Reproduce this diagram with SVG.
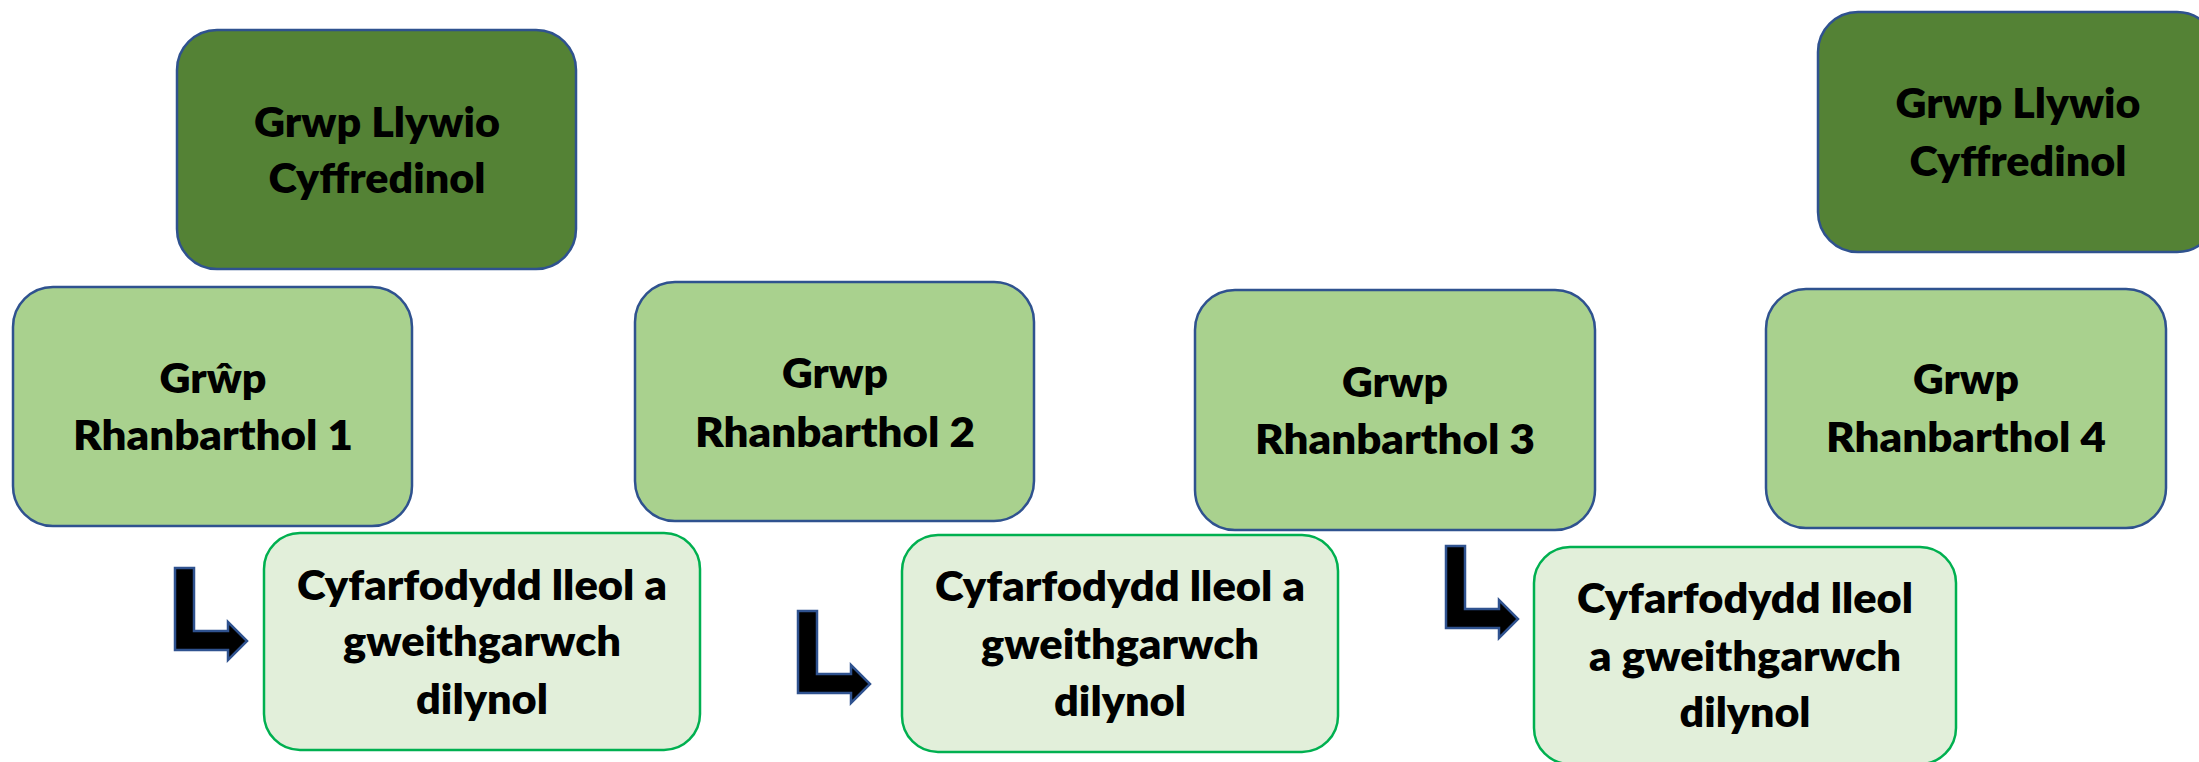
<svg xmlns="http://www.w3.org/2000/svg" width="2199" height="762" viewBox="0 0 2199 762">
<style>
.dark{fill:#548235;stroke:#2F528F;stroke-width:2.5}
.mid{fill:#A9D18E;stroke:#2F528F;stroke-width:2.5}
.pale{fill:#E2EFDA;stroke:#00B050;stroke-width:2.5}
.arrow{fill:#000;stroke:#2F528F;stroke-width:2.5;stroke-linejoin:miter}
text{font-family:Lato,"Open Sans","Liberation Sans",sans-serif;font-weight:800;font-size:42px;fill:#000;text-anchor:middle}
</style>
<defs>
<path id="bent" d="M0,0 H19 V63 H53 V54 L72,73 L53,92 V82 H0 Z"/>
</defs>
<rect width="2199" height="762" fill="#fff"/>
<g id="steer1"><rect class="dark" x="177" y="30" width="399" height="239" rx="40"/>
<text x="377" y="137" textLength="246" lengthAdjust="spacingAndGlyphs">Grwp Llywio</text>
<text x="377" y="193" textLength="217" lengthAdjust="spacingAndGlyphs">Cyffredinol</text></g>
<g id="steer2"><rect class="dark" x="1818" y="12" width="399" height="240" rx="40"/>
<text x="2018" y="118" textLength="245" lengthAdjust="spacingAndGlyphs">Grwp Llywio</text>
<text x="2018" y="176" textLength="217" lengthAdjust="spacingAndGlyphs">Cyffredinol</text></g>
<g id="region1"><rect class="mid" x="13" y="287" width="399" height="239" rx="40"/>
<text x="213" y="393" textLength="107" lengthAdjust="spacingAndGlyphs">Grŵp</text>
<text x="213" y="450" textLength="280" lengthAdjust="spacingAndGlyphs">Rhanbarthol 1</text></g>
<g id="region2"><rect class="mid" x="635" y="282" width="399" height="239" rx="40"/>
<text x="835" y="388" textLength="106" lengthAdjust="spacingAndGlyphs">Grwp</text>
<text x="835" y="447" textLength="280" lengthAdjust="spacingAndGlyphs">Rhanbarthol 2</text></g>
<g id="region3"><rect class="mid" x="1195" y="290" width="400" height="240" rx="40"/>
<text x="1395" y="397" textLength="106" lengthAdjust="spacingAndGlyphs">Grwp</text>
<text x="1395" y="454" textLength="280" lengthAdjust="spacingAndGlyphs">Rhanbarthol 3</text></g>
<g id="region4"><rect class="mid" x="1766" y="289" width="400" height="239" rx="40"/>
<text x="1966" y="394" textLength="106" lengthAdjust="spacingAndGlyphs">Grwp</text>
<text x="1966" y="452" textLength="280" lengthAdjust="spacingAndGlyphs">Rhanbarthol 4</text></g>
<g id="local1"><rect class="pale" x="264" y="533" width="436" height="217" rx="36"/>
<text x="482" y="600" textLength="370" lengthAdjust="spacingAndGlyphs">Cyfarfodydd lleol a</text>
<text x="482" y="656" textLength="278" lengthAdjust="spacingAndGlyphs">gweithgarwch</text>
<text x="482" y="714" textLength="132" lengthAdjust="spacingAndGlyphs">dilynol</text></g>
<g id="local2"><rect class="pale" x="902" y="535" width="436" height="217" rx="36"/>
<text x="1120" y="601" textLength="370" lengthAdjust="spacingAndGlyphs">Cyfarfodydd lleol a</text>
<text x="1120" y="659" textLength="278" lengthAdjust="spacingAndGlyphs">gweithgarwch</text>
<text x="1120" y="716" textLength="132" lengthAdjust="spacingAndGlyphs">dilynol</text></g>
<g id="local3"><rect class="pale" x="1534" y="547" width="422" height="217" rx="36"/>
<text x="1745" y="613" textLength="336" lengthAdjust="spacingAndGlyphs">Cyfarfodydd lleol</text>
<text x="1745" y="671" textLength="312" lengthAdjust="spacingAndGlyphs">a gweithgarwch</text>
<text x="1745" y="727" textLength="131" lengthAdjust="spacingAndGlyphs">dilynol</text></g>
<g id="connectors">
<use href="#bent" class="arrow" transform="translate(175,568)"/>
<use href="#bent" class="arrow" transform="translate(798,611)"/>
<use href="#bent" class="arrow" transform="translate(1446,546)"/>
</g>
</svg>
